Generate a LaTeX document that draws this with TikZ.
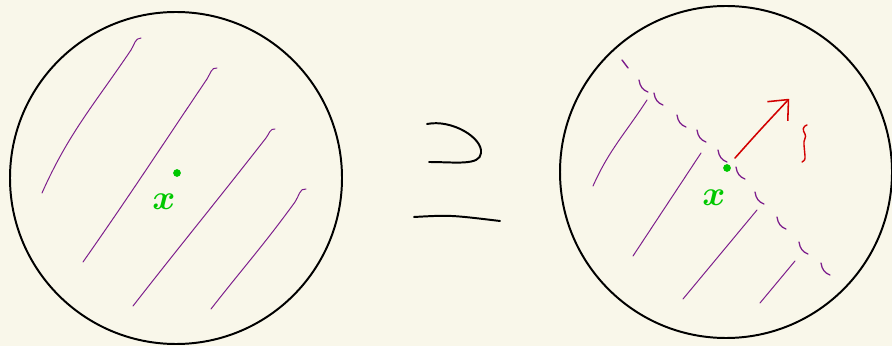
\documentclass[tikz,border=0pt]{standalone}
\definecolor{paper}{RGB}{249,247,234}
\definecolor{hatchpurple}{RGB}{125,30,140}
\definecolor{pointgreen}{RGB}{0,200,0}
\definecolor{markred}{RGB}{210,0,0}
\usepackage{xcolor}
\usepackage{tikz}
\usetikzlibrary{arrows.meta,positioning}

\begin{document}
\begin{tikzpicture}[x=0.025cm,y=-0.025cm,
        hatch/.style={draw=hatchpurple,line width=0.7pt,line cap=round},
        ball/.style={draw=black,line width=1.4pt},
        pen/.style={draw=black,line width=1.4pt,line cap=round},
        pt/.style={circle,fill=pointgreen,inner sep=0pt,minimum size=5.5pt},
        ptlabel/.style={text=pointgreen,font=\fontsize{30}{30}\selectfont\boldmath}]
        \fill[paper] (0,0) rectangle (892,346);
        \useasboundingbox (0,0) rectangle (892,346);
        % left ball
        \draw[ball] (176,178) circle[radius=166];
        \draw[hatch] (42,193) to[out=66,in=236] (131,50) to[out=56,in=180] (141,38);
        \draw[hatch] (83,262) to[out=55,in=236] (207,79) to[out=56,in=170] (217,68);
        \draw[hatch] (133,306) to[out=52,in=232] (266,138) to[out=52,in=170] (275,129);
        \draw[hatch] (211,309) to[out=52,in=234] (295,202) to[out=54,in=170] (306,189);
        \node[pt] (lpt) at (177,173) {};
        \node[ptlabel] (lx) at (164,202) {$x$};
        % the sign
        \draw[pen] (427,124) .. controls (452,119) and (483,138) .. (481,153)
                   .. controls (480,166) and (455,162) .. (429,162);
        \draw[pen] (414,217) .. controls (450,215) .. (500,221);
        % right ball
        \draw[ball] (726,172) circle[radius=166];
        \draw[hatch] (593,186) to[out=66,in=237] (647,100);
        \draw[hatch] (633,256) -- (701,153);
        \draw[hatch] (683,299) -- (757,210);
        \draw[hatch] (760,303) -- (795,261);
        \draw[hatch,line width=1pt] (622,60) -- (628,68);
        \foreach \px/\py in {639/80,654/93,677/115,697/130,718/150,736/167,
                             755/192,777/217,799/242,821/263}
          \draw[hatch,line width=0.9pt] (\px,\py) .. controls (\px+1,\py+7) and (\px+4,\py+10) .. (\px+9,\py+12);
        \node[pt] (rpt) at (727,168) {};
        \node[ptlabel] (rx) at (714,198) {$x$};
        \coordinate (tail) at (735,158);
        \coordinate (tip) at (789,99);
        \draw[draw=markred,line width=1.1pt,line cap=round,
              -{Straight Barb[length=4mm,width=7mm,line join=round]}]
              (tail) .. controls (760,130) .. (tip);
        \draw[draw=markred,line width=1pt,line cap=round]
              (807,125) .. controls (803,126) and (802,130) .. (805,134)
              .. controls (807,137) and (803,140) .. (804,145) -- (805,156)
              .. controls (805,160) .. (802,162);
      \end{tikzpicture}
\end{document}
